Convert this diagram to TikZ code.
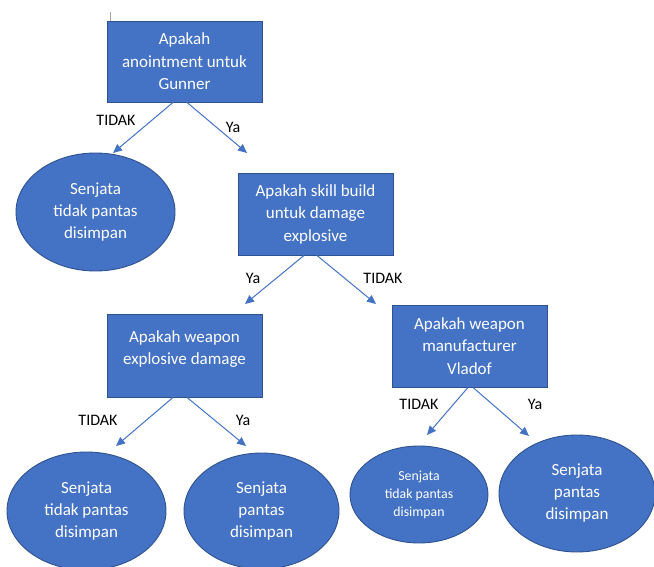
\documentclass[tikz,border=0pt]{standalone}
\usepackage{fontspec}
\setmainfont{Carlito}
\usetikzlibrary{shapes.geometric,arrows.meta}
\definecolor{boxblue}{HTML}{4472C4}
\definecolor{boxedge}{HTML}{2F528F}
\tikzset{
  qbox/.style={draw=boxedge, fill=boxblue, line width=0.9pt, rectangle, inner sep=0pt,
    text=white, align=center, font=\fontsize{17}{22.5}\selectfont},
  leaf/.style={draw=boxedge, fill=boxblue, line width=0.9pt, ellipse, inner sep=0pt,
    text=white, align=center, font=\fontsize{17}{22}\selectfont},
  smallleaf/.style={leaf, font=\fontsize{13.8}{18}\selectfont},
  arr/.style={draw=boxblue, line width=1pt, -{Triangle[length=9pt,width=8pt]}},
  lbl/.style={text=black, font=\fontsize{16}{19}\selectfont, inner sep=0pt},
  qtext/.style={text=white, align=center, font=\fontsize{17}{22.5}\selectfont, inner sep=0pt}
}
\begin{document}
\begin{tikzpicture}[x=1pt,y=-1pt]
\useasboundingbox (0,0) rectangle (654,567);
\fill[white] (0,0) rectangle (654,567);

% stray mark
\draw[gray!70, line width=0.8pt] (110,12) -- (110,32);

% question boxes
\node[qbox, minimum width=155, minimum height=81] (b1) at (184.5,61.5) {Apakah\\anointment untuk\\Gunner};
\node[qbox, minimum width=155, minimum height=82] (b2) at (315.5,214) {Apakah skill build\\untuk damage\\explosive};
\node[qbox, minimum width=155, minimum height=83] (b3) at (184.5,355.5) {};
\node[qtext] (t3) at (184.5,349) {Apakah weapon\\explosive damage};
\node[qbox, minimum width=155, minimum height=82] (b4) at (469.5,346) {Apakah weapon\\manufacturer\\Vladof};

% leaves
\node[leaf, minimum width=159, minimum height=118] (e1) at (95.5,212) {Senjata\\tidak pantas\\disimpan};
\node[leaf, minimum width=159, minimum height=118] (e2) at (86.5,511) {Senjata\\tidak pantas\\disimpan};
\node[leaf, minimum width=155, minimum height=116] (e3) at (261.5,511) {Senjata\\pantas\\disimpan};
\node[smallleaf, minimum width=138, minimum height=97] (e4) at (419,494.5) {Senjata\\tidak pantas\\disimpan};
\node[leaf, minimum width=156, minimum height=117] (e5) at (577,493.5) {Senjata\\pantas\\disimpan};

% arrow tips
\coordinate (p1) at (113,153);
\coordinate (p2) at (247,153);
\coordinate (p3) at (245,304);
\coordinate (p4) at (376,304);
\coordinate (p5) at (116,446);
\coordinate (p6) at (246,446);
\coordinate (p7) at (427,435);
\coordinate (p8) at (529,436);

\draw[arr] ([xshift=-11.5pt]b1.south) -- (p1);
\draw[arr] ([xshift=2.5pt]b1.south) -- (p2);
\draw[arr] ([xshift=-11.5pt]b2.south) -- (p3);
\draw[arr] ([xshift=1.5pt]b2.south) -- (p4);
\draw[arr] ([xshift=-11.5pt]b3.south) -- (p5);
\draw[arr] ([xshift=2.5pt]b3.south) -- (p6);
\draw[arr] ([xshift=-1.5pt]b4.south) -- (p7);
\draw[arr] ([xshift=3.5pt]b4.south) -- (p8);

% labels
\node[lbl] (l1) at (116,120) {TIDAK};
\node[lbl] (l2) at (233,127) {Ya};
\node[lbl] (l3) at (253,278) {Ya};
\node[lbl] (l4) at (383,278) {TIDAK};
\node[lbl] (l5) at (98,420) {TIDAK};
\node[lbl] (l6) at (243,420) {Ya};
\node[lbl] (l7) at (419,404) {TIDAK};
\node[lbl] (l8) at (535,404) {Ya};
\end{tikzpicture}
\end{document}
